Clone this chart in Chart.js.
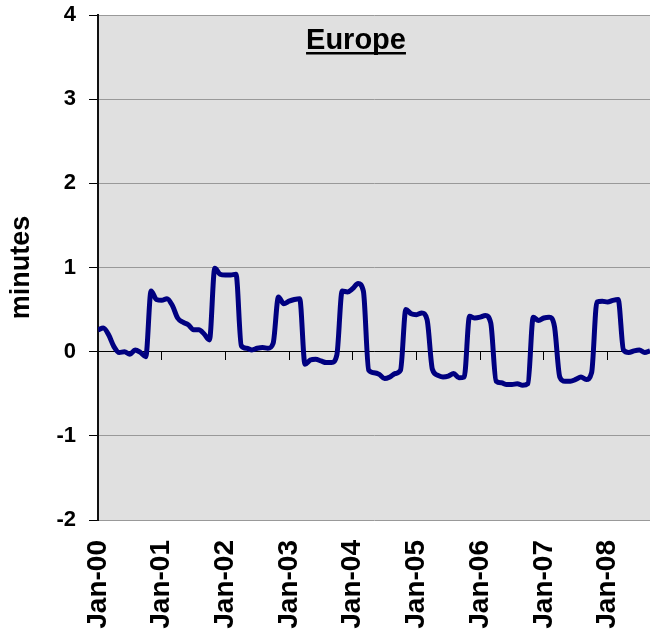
<!DOCTYPE html>
<html>
<head>
<meta charset="utf-8">
<script src="https://cdn.jsdelivr.net/npm/chart.js@4/dist/chart.umd.min.js"></script>
<style>
  html, body { margin: 0; padding: 0; background: #ffffff; overflow: hidden; }
  canvas { display: block; }
</style>
</head>
<body>
<canvas id="chart" width="650" height="634"></canvas>
<script>
// Monthly series, Jan-2000 onwards (minutes)
const europe = [
  0.26, 0.28, 0.20, 0.06, -0.01, 0.00, -0.03, 0.02, -0.01, -0.06, 0.72, 0.62,
  0.61, 0.63, 0.55, 0.40, 0.35, 0.32, 0.26, 0.26, 0.21, 0.14, 0.99, 0.92,
  0.91, 0.91, 0.92, 0.07, 0.04, 0.02, 0.04, 0.05, 0.04, 0.10, 0.65, 0.57,
  0.60, 0.62, 0.63, -0.15, -0.10, -0.09, -0.11, -0.13, -0.13, -0.04, 0.72, 0.71,
  0.75, 0.81, 0.72, -0.22, -0.25, -0.27, -0.32, -0.30, -0.26, -0.22, 0.50, 0.45,
  0.44, 0.46, 0.38, -0.21, -0.28, -0.30, -0.29, -0.26, -0.31, -0.30, 0.42, 0.40,
  0.41, 0.43, 0.34, -0.35, -0.37, -0.39, -0.39, -0.38, -0.40, -0.38, 0.41, 0.37,
  0.40, 0.41, 0.30, -0.30, -0.35, -0.35, -0.33, -0.30, -0.33, -0.25, 0.59, 0.60,
  0.59, 0.61, 0.62, 0.02, -0.01, 0.01, 0.02, -0.01, 0.01
];

// Year labels, one per January
const tickLabels = ['Jan-00', 'Jan-01', 'Jan-02', 'Jan-03', 'Jan-04', 'Jan-05', 'Jan-06', 'Jan-07', 'Jan-08'];

// Y axis range and title
const yMin = -2;
const yMax = 4;
const yTitle = 'minutes';
const chartTitle = 'Europe';

const points = europe.map((v, i) => ({ x: i, y: v }));
const lastMonth = europe.length - 1;
const januaryTicks = () => tickLabels.map((_, k) => ({ value: k * 12 }));

const FONT = "'Liberation Sans', Arial, sans-serif";

// Grey plot background
const plotBackground = {
  id: 'plotBackground',
  beforeDraw(chart) {
    const { ctx, chartArea: a } = chart;
    ctx.save();
    ctx.fillStyle = '#e0e0e0';
    ctx.fillRect(a.left, a.top, a.right - a.left, a.bottom - a.top);
    ctx.restore();
  }
};

// Underlined heading inside the plot
const heading = {
  id: 'heading',
  afterDraw(chart) {
    const { ctx, chartArea: a } = chart;
    const cx = a.left + 258;
    const baseY = a.top + 34;
    ctx.save();
    ctx.font = 'bold 29px ' + FONT;
    ctx.fillStyle = '#000';
    ctx.textAlign = 'center';
    ctx.textBaseline = 'alphabetic';
    ctx.fillText(chartTitle, cx, baseY);
    const w = ctx.measureText(chartTitle).width;
    ctx.fillRect(cx - w / 2, baseY + 3, w, 2.5);
    ctx.restore();
  }
};

// Keep the plot edges fixed: no extra room reserved for label overhang
function noOverhang(scale) {
  scale.paddingTop = 0;
  scale.paddingBottom = 0;
  scale.paddingLeft = 0;
  scale.paddingRight = 0;
}

new Chart(document.getElementById('chart'), {
  type: 'line',
  data: {
    datasets: [{
      data: points,
      borderColor: '#000080',
      borderWidth: 5,
      pointRadius: 0,
      cubicInterpolationMode: 'monotone',
      fill: false
    }]
  },
  options: {
    responsive: false,
    animation: false,
    layout: { padding: { top: 15, right: 0, left: 0, bottom: 0 } },
    plugins: { legend: { display: false }, tooltip: { enabled: false }, title: { display: false } },
    scales: {
      x: {
        type: 'linear',
        position: 'bottom',
        min: 0,
        max: lastMonth,
        afterBuildTicks(scale) { scale.ticks = januaryTicks(); },
        afterFit(scale) { scale.height = 114; noOverhang(scale); },
        grid: { display: false, drawTicks: false, tickLength: 0 },
        border: { display: false },
        ticks: {
          autoSkip: false,
          minRotation: 90,
          maxRotation: 90,
          padding: 20,
          color: '#000',
          font: { family: FONT, size: 28, weight: 'bold' },
          callback: (value) => tickLabels[Math.round(value / 12)]
        }
      },
      x2: {
        type: 'linear',
        axis: 'x',
        position: { y: 0 },
        min: 0,
        max: lastMonth,
        afterBuildTicks(scale) { scale.ticks = januaryTicks(); },
        afterFit(scale) { noOverhang(scale); },
        grid: { drawOnChartArea: false, drawTicks: true, tickLength: 8, tickColor: '#000', color: '#000', lineWidth: 1 },
        border: { display: true, color: '#000', width: 1 },
        ticks: { display: false }
      },
      y: {
        type: 'linear',
        position: 'left',
        min: yMin,
        max: yMax,
        afterFit(scale) { scale.width = 98; noOverhang(scale); },
        grid: { color: '#999999', lineWidth: 1, tickColor: '#000', tickLength: 9 },
        border: { display: true, color: '#111', width: 2 },
        ticks: {
          stepSize: 1,
          padding: 13,
          color: '#000',
          font: { family: FONT, size: 22, weight: 'bold' }
        },
        title: {
          display: true,
          text: yTitle,
          color: '#000',
          padding: { top: 5, bottom: 0 },
          font: { family: FONT, size: 27, weight: 'bold' }
        }
      }
    }
  },
  plugins: [plotBackground, heading]
});
</script>
</body>
</html>
